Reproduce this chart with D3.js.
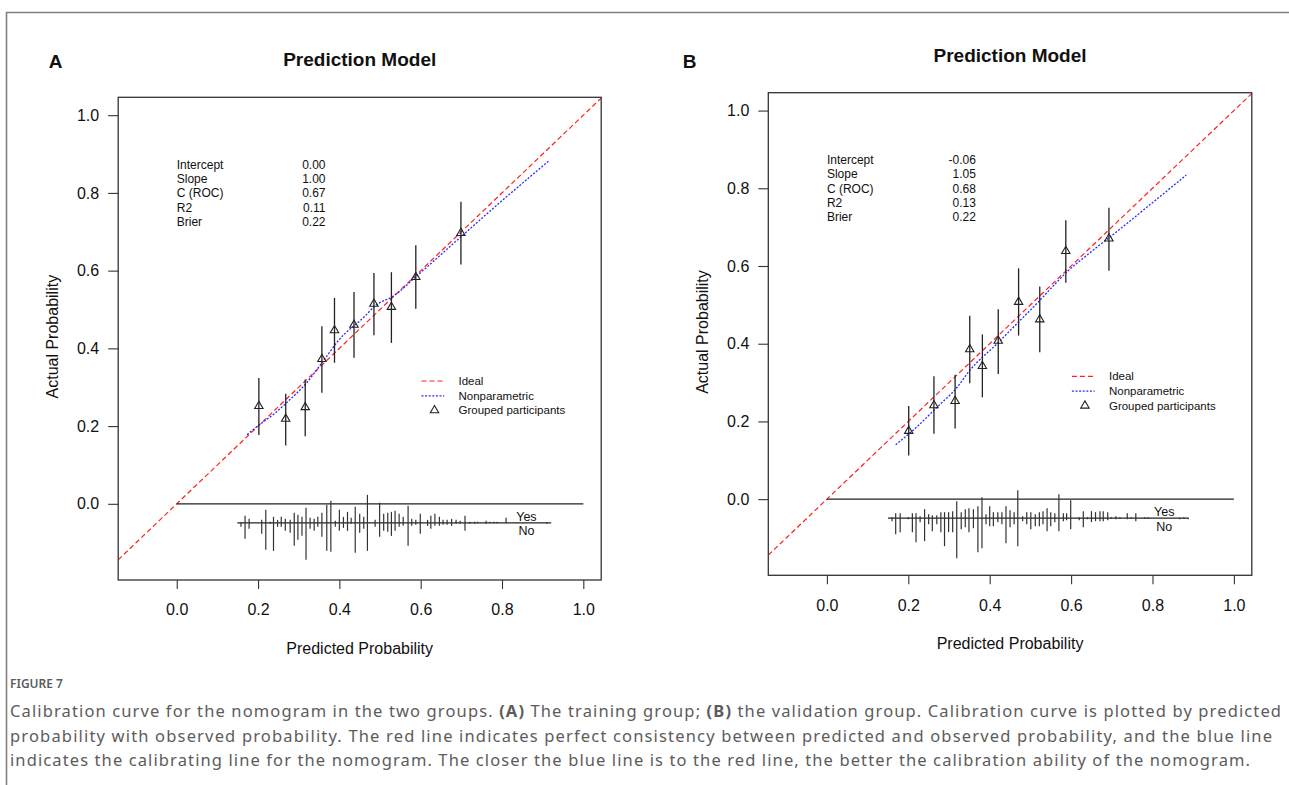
<!DOCTYPE html>
<html>
<head>
<meta charset="utf-8">
<script src="https://cdn.jsdelivr.net/npm/d3@7"></script>
<style>
  body { margin: 0; background: #fff; }
  svg { display: block; }
  .plot text { font-family: "Liberation Sans", Arial, sans-serif; fill: #111; }
  .caption { font-family: "Noto Sans", "Open Sans", sans-serif; fill: #5c5c5c; }
</style>
</head>
<body>
<div id="figure"></div>
<script>
'use strict'

// axis ticks shared by both panels
const tickValues = [0, 0.2, 0.4, 0.6, 0.8, 1.0]

const statLabels = ['Intercept', 'Slope', 'C (ROC)', 'R2', 'Brier']
const statValuesA = ['0.00', '1.00', '0.67', '0.11', '0.22']
const statValuesB = ['-0.06', '1.05', '0.68', '0.13', '0.22']

const legendLabels = ['Ideal', 'Nonparametric', 'Grouped participants']

// grouped participants: predicted, observed, lower, upper
const groupedA = [
  [0.202, 0.252, 0.177, 0.324],
  [0.268, 0.219, 0.150, 0.283],
  [0.316, 0.249, 0.174, 0.320],
  [0.357, 0.373, 0.286, 0.457],
  [0.388, 0.447, 0.363, 0.530],
  [0.436, 0.461, 0.376, 0.545],
  [0.485, 0.515, 0.434, 0.594],
  [0.528, 0.507, 0.414, 0.596],
  [0.588, 0.584, 0.502, 0.665],
  [0.699, 0.697, 0.616, 0.777]
]
const groupedB = [
  [0.201, 0.176, 0.112, 0.240],
  [0.263, 0.242, 0.168, 0.316],
  [0.315, 0.253, 0.182, 0.320],
  [0.351, 0.386, 0.298, 0.472],
  [0.382, 0.343, 0.262, 0.424],
  [0.421, 0.408, 0.322, 0.489],
  [0.471, 0.508, 0.421, 0.594],
  [0.523, 0.463, 0.378, 0.547],
  [0.587, 0.639, 0.557, 0.718],
  [0.693, 0.671, 0.588, 0.750]
]

// nonparametric (loess) calibration curves
const curveA = [
  [0.173, 0.178], [0.204, 0.204], [0.240, 0.232], [0.270, 0.260],
  [0.319, 0.311], [0.360, 0.367], [0.400, 0.423], [0.459, 0.479],
  [0.491, 0.512], [0.532, 0.534], [0.590, 0.586], [0.700, 0.688],
  [0.800, 0.780], [0.916, 0.883]
]
const curveB = [
  [0.169, 0.140], [0.220, 0.185], [0.270, 0.236], [0.320, 0.288],
  [0.350, 0.330], [0.420, 0.402], [0.470, 0.455], [0.520, 0.508],
  [0.560, 0.553], [0.590, 0.585], [0.650, 0.637], [0.720, 0.695],
  [0.800, 0.763], [0.883, 0.834]
]

// spike histogram of predictions: predicted, Yes count, No count
const spikesA = [
  [0.158, 0, 4], [0.168, 7, 16], [0.178, 4, 6], [0.209, 3, 11], [0.219, 13, 27],
  [0.230, 1, 1], [0.238, 6, 28], [0.248, 3, 4], [0.257, 6, 4], [0.267, 4, 8],
  [0.279, 3, 10], [0.289, 10, 23], [0.298, 8, 17], [0.308, 6, 13], [0.318, 15, 37],
  [0.328, 5, 6], [0.338, 4, 8], [0.347, 6, 4], [0.357, 10, 14], [0.369, 18, 28],
  [0.379, 22, 29], [0.390, 2, 4], [0.400, 13, 8], [0.410, 6, 5], [0.420, 11, 8],
  [0.429, 5, 1], [0.439, 16, 30], [0.450, 9, 10], [0.460, 6, 6], [0.469, 28, 28],
  [0.488, 3, 4], [0.499, 20, 14], [0.509, 9, 8], [0.519, 10, 9], [0.528, 11, 13],
  [0.537, 12, 8], [0.547, 9, 4], [0.557, 6, 3], [0.569, 17, 23], [0.578, 4, 3],
  [0.588, 3, 2], [0.599, 9, 11], [0.617, 3, 3], [0.625, 7, 6], [0.635, 9, 3],
  [0.646, 6, 3], [0.655, 3, 2], [0.665, 3, 2], [0.676, 4, 3], [0.687, 3, 1],
  [0.697, 2, 1], [0.709, 7, 8], [0.721, 1, 1], [0.733, 1, 1], [0.740, 1, 0],
  [0.761, 2, 1], [0.770, 1, 0], [0.780, 1, 0], [0.788, 1, 0], [0.810, 5, 0],
  [0.910, 0, 1]
]
const spikesB = [
  [0.160, 1, 3], [0.169, 5, 16], [0.180, 5, 14], [0.200, 1, 1], [0.210, 5, 14],
  [0.219, 5, 24], [0.229, 2, 4], [0.240, 9, 23], [0.250, 4, 6], [0.259, 3, 13],
  [0.270, 3, 6], [0.280, 6, 14], [0.289, 6, 28], [0.299, 6, 14], [0.309, 7, 14],
  [0.319, 17, 40], [0.330, 6, 11], [0.340, 9, 9], [0.349, 10, 14], [0.360, 9, 10],
  [0.371, 12, 34], [0.381, 21, 30], [0.391, 4, 6], [0.400, 12, 8], [0.409, 6, 8],
  [0.420, 6, 4], [0.430, 6, 6], [0.440, 12, 25], [0.450, 8, 9], [0.460, 6, 6],
  [0.469, 28, 28], [0.481, 2, 3], [0.491, 6, 6], [0.501, 6, 11], [0.512, 4, 8],
  [0.522, 6, 8], [0.531, 7, 6], [0.541, 10, 13], [0.550, 6, 8], [0.560, 5, 4],
  [0.570, 24, 13], [0.581, 5, 3], [0.589, 5, 2], [0.599, 18, 11], [0.620, 1, 2],
  [0.630, 7, 9], [0.640, 1, 1], [0.650, 7, 4], [0.660, 6, 3], [0.671, 7, 3],
  [0.679, 7, 3], [0.690, 6, 2], [0.699, 1, 0], [0.710, 2, 1], [0.720, 1, 0],
  [0.738, 5, 1], [0.748, 1, 0], [0.759, 5, 3], [0.781, 1, 0], [0.789, 1, 0],
  [0.867, 0, 1], [0.877, 1, 0], [0.888, 0, 1]
]
const spikeRangeA = [0.149, 0.921]
const spikeRangeB = [0.150, 0.888]

const captionLines = [
  [['Calibration curve for the nomogram in the two groups. ', false], ['(A)', true], [' The training group; ', false], ['(B)', true], [' the validation group. Calibration curve is plotted by predicted', false]],
  [['probability with observed probability. The red line indicates perfect consistency between predicted and observed probability, and the blue line', false]],
  [['indicates the calibrating line for the nomogram. The closer the blue line is to the red line, the better the calibration ability of the nomogram.', false]]
]
// rendered width of each caption line in the reference
const captionWidths = [1271, 1262, 1240]

const W = 1289
const H = 785
// R pads xlim/ylim by 4% on each side
const xDomain = [-0.1 - 0.044, 1 + 0.044]
const yDomain = [-0.15 - 0.046, 1 + 0.046]

const svg = d3.select('#figure').append('svg')
  .attr('width', W)
  .attr('height', H)

// figure frame
svg.append('path')
  .attr('d', `M6.5,${H} L6.5,12.5 L${W},12.5`)
  .attr('fill', 'none')
  .attr('stroke', '#808080')
  .attr('stroke-width', 1.6)

const panels = [
  { id: 'A', left: 118.2, top: 97.3, width: 483, height: 482.7, letterX: 55.5, stats: statValuesA, grouped: groupedA, curve: curveA, spikes: spikesA, spikeRange: spikeRangeA, yesNoX: 0.86 },
  { id: 'B', left: 768.3, top: 92.7, width: 483.5, height: 482.6, letterX: 689.7, stats: statValuesB, grouped: groupedB, curve: curveB, spikes: spikesB, spikeRange: spikeRangeB, yesNoX: 0.829 }
]

const triangle = 'M0,-4.6 L4.2,2.6 L-4.2,2.6 Z'

function drawPanel (p) {
  const g = svg.append('g').attr('class', 'plot')
  const x = d3.scaleLinear().domain(xDomain).range([p.left, p.left + p.width])
  const y = d3.scaleLinear().domain(yDomain).range([p.top + p.height, p.top])
  const spikeLen = d3.scaleLinear().domain([0, 40]).range([0, 40 * (yDomain[1] - yDomain[0]) / p.height])

  // panel letter and title
  g.append('text')
    .attr('x', p.letterX).attr('y', 61).attr('dy', '0.35em')
    .attr('text-anchor', 'middle')
    .style('font-size', '19px').style('font-weight', 'bold')
    .text(p.id)
  g.append('text')
    .attr('x', p.left + p.width / 2).attr('y', p.top - 37.5).attr('dy', '0.35em')
    .attr('text-anchor', 'middle')
    .style('font-size', '19px').style('font-weight', 'bold')
    .text('Prediction Model')

  // axes
  const xAxis = g.append('g')
    .attr('transform', `translate(0,${p.top + p.height})`)
    .call(d3.axisBottom(x).tickValues(tickValues).tickFormat(d3.format('.1f')).tickSize(9).tickPadding(15))
  const yAxis = g.append('g')
    .attr('transform', `translate(${p.left},0)`)
    .call(d3.axisLeft(y).tickValues(tickValues).tickFormat(d3.format('.1f')).tickSize(10).tickPadding(9))
  for (const ax of [xAxis, yAxis]) {
    ax.select('.domain').remove()
    ax.selectAll('line').attr('stroke', '#333').attr('stroke-width', 1.1)
    ax.selectAll('text').style('font-size', '16px').attr('fill', '#111')
      .style('font-family', '"Liberation Sans", Arial, sans-serif')
  }

  g.append('text')
    .attr('x', p.left + p.width / 2).attr('y', p.top + p.height + 73.5)
    .attr('text-anchor', 'middle')
    .style('font-size', '16px')
    .text('Predicted Probability')
  g.append('text')
    .attr('transform', `translate(${p.left - 66},${p.top + p.height / 2 - 2}) rotate(-90)`)
    .attr('dy', '0.35em')
    .attr('text-anchor', 'middle')
    .style('font-size', '16px')
    .text('Actual Probability')

  // clip for the ideal line
  const clipId = `clip${p.id}`
  g.append('clipPath').attr('id', clipId)
    .append('rect')
    .attr('x', p.left).attr('y', p.top)
    .attr('width', p.width).attr('height', p.height)

  // ideal line
  g.append('line')
    .attr('clip-path', `url(#${clipId})`)
    .attr('x1', x(xDomain[0])).attr('y1', y(xDomain[0]))
    .attr('x2', x(xDomain[1])).attr('y2', y(xDomain[1]))
    .attr('stroke', '#ff2020').attr('stroke-width', 1.2)
    .attr('stroke-dasharray', '5,3')

  // nonparametric curve
  g.append('path')
    .datum(p.curve)
    .attr('d', d3.line().x(d => x(d[0])).y(d => y(d[1])).curve(d3.curveMonotoneX))
    .attr('fill', 'none')
    .attr('stroke', '#2a2aff').attr('stroke-width', 1.3)
    .attr('stroke-dasharray', '2,1.6')

  // error bars and triangles
  g.append('g').selectAll('line')
    .data(p.grouped)
    .enter()
    .append('line')
    .attr('x1', d => x(d[0])).attr('x2', d => x(d[0]))
    .attr('y1', d => y(d[2])).attr('y2', d => y(d[3]))
    .attr('stroke', '#222').attr('stroke-width', 1.3)
  g.append('g').selectAll('path')
    .data(p.grouped)
    .enter()
    .append('path')
    .attr('d', triangle)
    .attr('transform', d => `translate(${x(d[0])},${y(d[1])})`)
    .attr('fill', 'none').attr('stroke', '#222').attr('stroke-width', 1.1)

  // stats table
  const rowStep = 0.0367
  const stats = g.append('g').style('font-size', '12px')
  statLabels.forEach((lab, i) => {
    stats.append('text')
      .attr('x', x(0)).attr('y', y(0.873 - i * rowStep)).attr('dy', '0.35em')
      .text(lab)
    stats.append('text')
      .attr('x', x(0.366)).attr('y', y(0.873 - i * rowStep)).attr('dy', '0.35em')
      .attr('text-anchor', 'end')
      .text(p.stats[i])
  })

  // legend
  const legY = [0.316, 0.278, 0.241]
  const leg = g.append('g').style('font-size', '11.5px')
  leg.append('line')
    .attr('x1', x(0.602)).attr('x2', x(0.658))
    .attr('y1', y(legY[0])).attr('y2', y(legY[0]))
    .attr('stroke', '#ff2020').attr('stroke-width', 1.2).attr('stroke-dasharray', '5,3')
  leg.append('line')
    .attr('x1', x(0.602)).attr('x2', x(0.658))
    .attr('y1', y(legY[1])).attr('y2', y(legY[1]))
    .attr('stroke', '#2a2aff').attr('stroke-width', 1.3).attr('stroke-dasharray', '2,1.6')
  leg.append('path')
    .attr('d', triangle)
    .attr('transform', `translate(${x(0.634)},${y(legY[2])})`)
    .attr('fill', 'none').attr('stroke', '#222').attr('stroke-width', 1.1)
  legendLabels.forEach((lab, i) => {
    leg.append('text')
      .attr('x', x(0.693)).attr('y', y(legY[i])).attr('dy', '0.35em')
      .text(lab)
  })

  // spike histogram
  const base = -0.049
  g.append('line')
    .attr('x1', x(0)).attr('x2', x(1))
    .attr('y1', y(0)).attr('y2', y(0))
    .attr('stroke', '#222').attr('stroke-width', 1.2)
  g.append('line')
    .attr('x1', x(p.spikeRange[0])).attr('x2', x(p.spikeRange[1]))
    .attr('y1', y(base)).attr('y2', y(base))
    .attr('stroke', '#222').attr('stroke-width', 1.2)
  g.append('g').selectAll('line')
    .data(p.spikes)
    .enter()
    .append('line')
    .attr('x1', d => x(d[0])).attr('x2', d => x(d[0]))
    .attr('y1', d => y(base + spikeLen(Math.max(d[1], 0.5))))
    .attr('y2', d => y(base - spikeLen(Math.max(d[2], 0.5))))
    .attr('stroke', '#333').attr('stroke-width', 1.2)
  g.append('text')
    .attr('x', x(p.yesNoX)).attr('y', y(base + 0.016)).attr('dy', '0.35em')
    .attr('text-anchor', 'middle').style('font-size', '12.5px')
    .text('Yes')
  g.append('text')
    .attr('x', x(p.yesNoX)).attr('y', y(base - 0.021)).attr('dy', '0.35em')
    .attr('text-anchor', 'middle').style('font-size', '12.5px')
    .text('No')

  // plot box
  g.append('rect')
    .attr('x', p.left).attr('y', p.top)
    .attr('width', p.width).attr('height', p.height)
    .attr('fill', 'none').attr('stroke', '#333').attr('stroke-width', 1.3)
}

panels.forEach(drawPanel)

// caption
const cap = svg.append('g').attr('class', 'caption')
cap.append('text')
  .attr('x', 10).attr('y', 688)
  .style('font-size', '12px').style('font-weight', '600')
  .text('FIGURE 7')
captionLines.forEach((parts, i) => {
  const t = cap.append('text')
    .attr('x', 10).attr('y', 717 + i * 24.5)
    .attr('textLength', captionWidths[i])
    .attr('lengthAdjust', 'spacing')
    .style('font-size', '16.5px')
  for (const [str, bold] of parts) {
    t.append('tspan')
      .style('font-weight', bold ? '700' : '400')
      .text(str)
  }
})
</script>
</body>
</html>
